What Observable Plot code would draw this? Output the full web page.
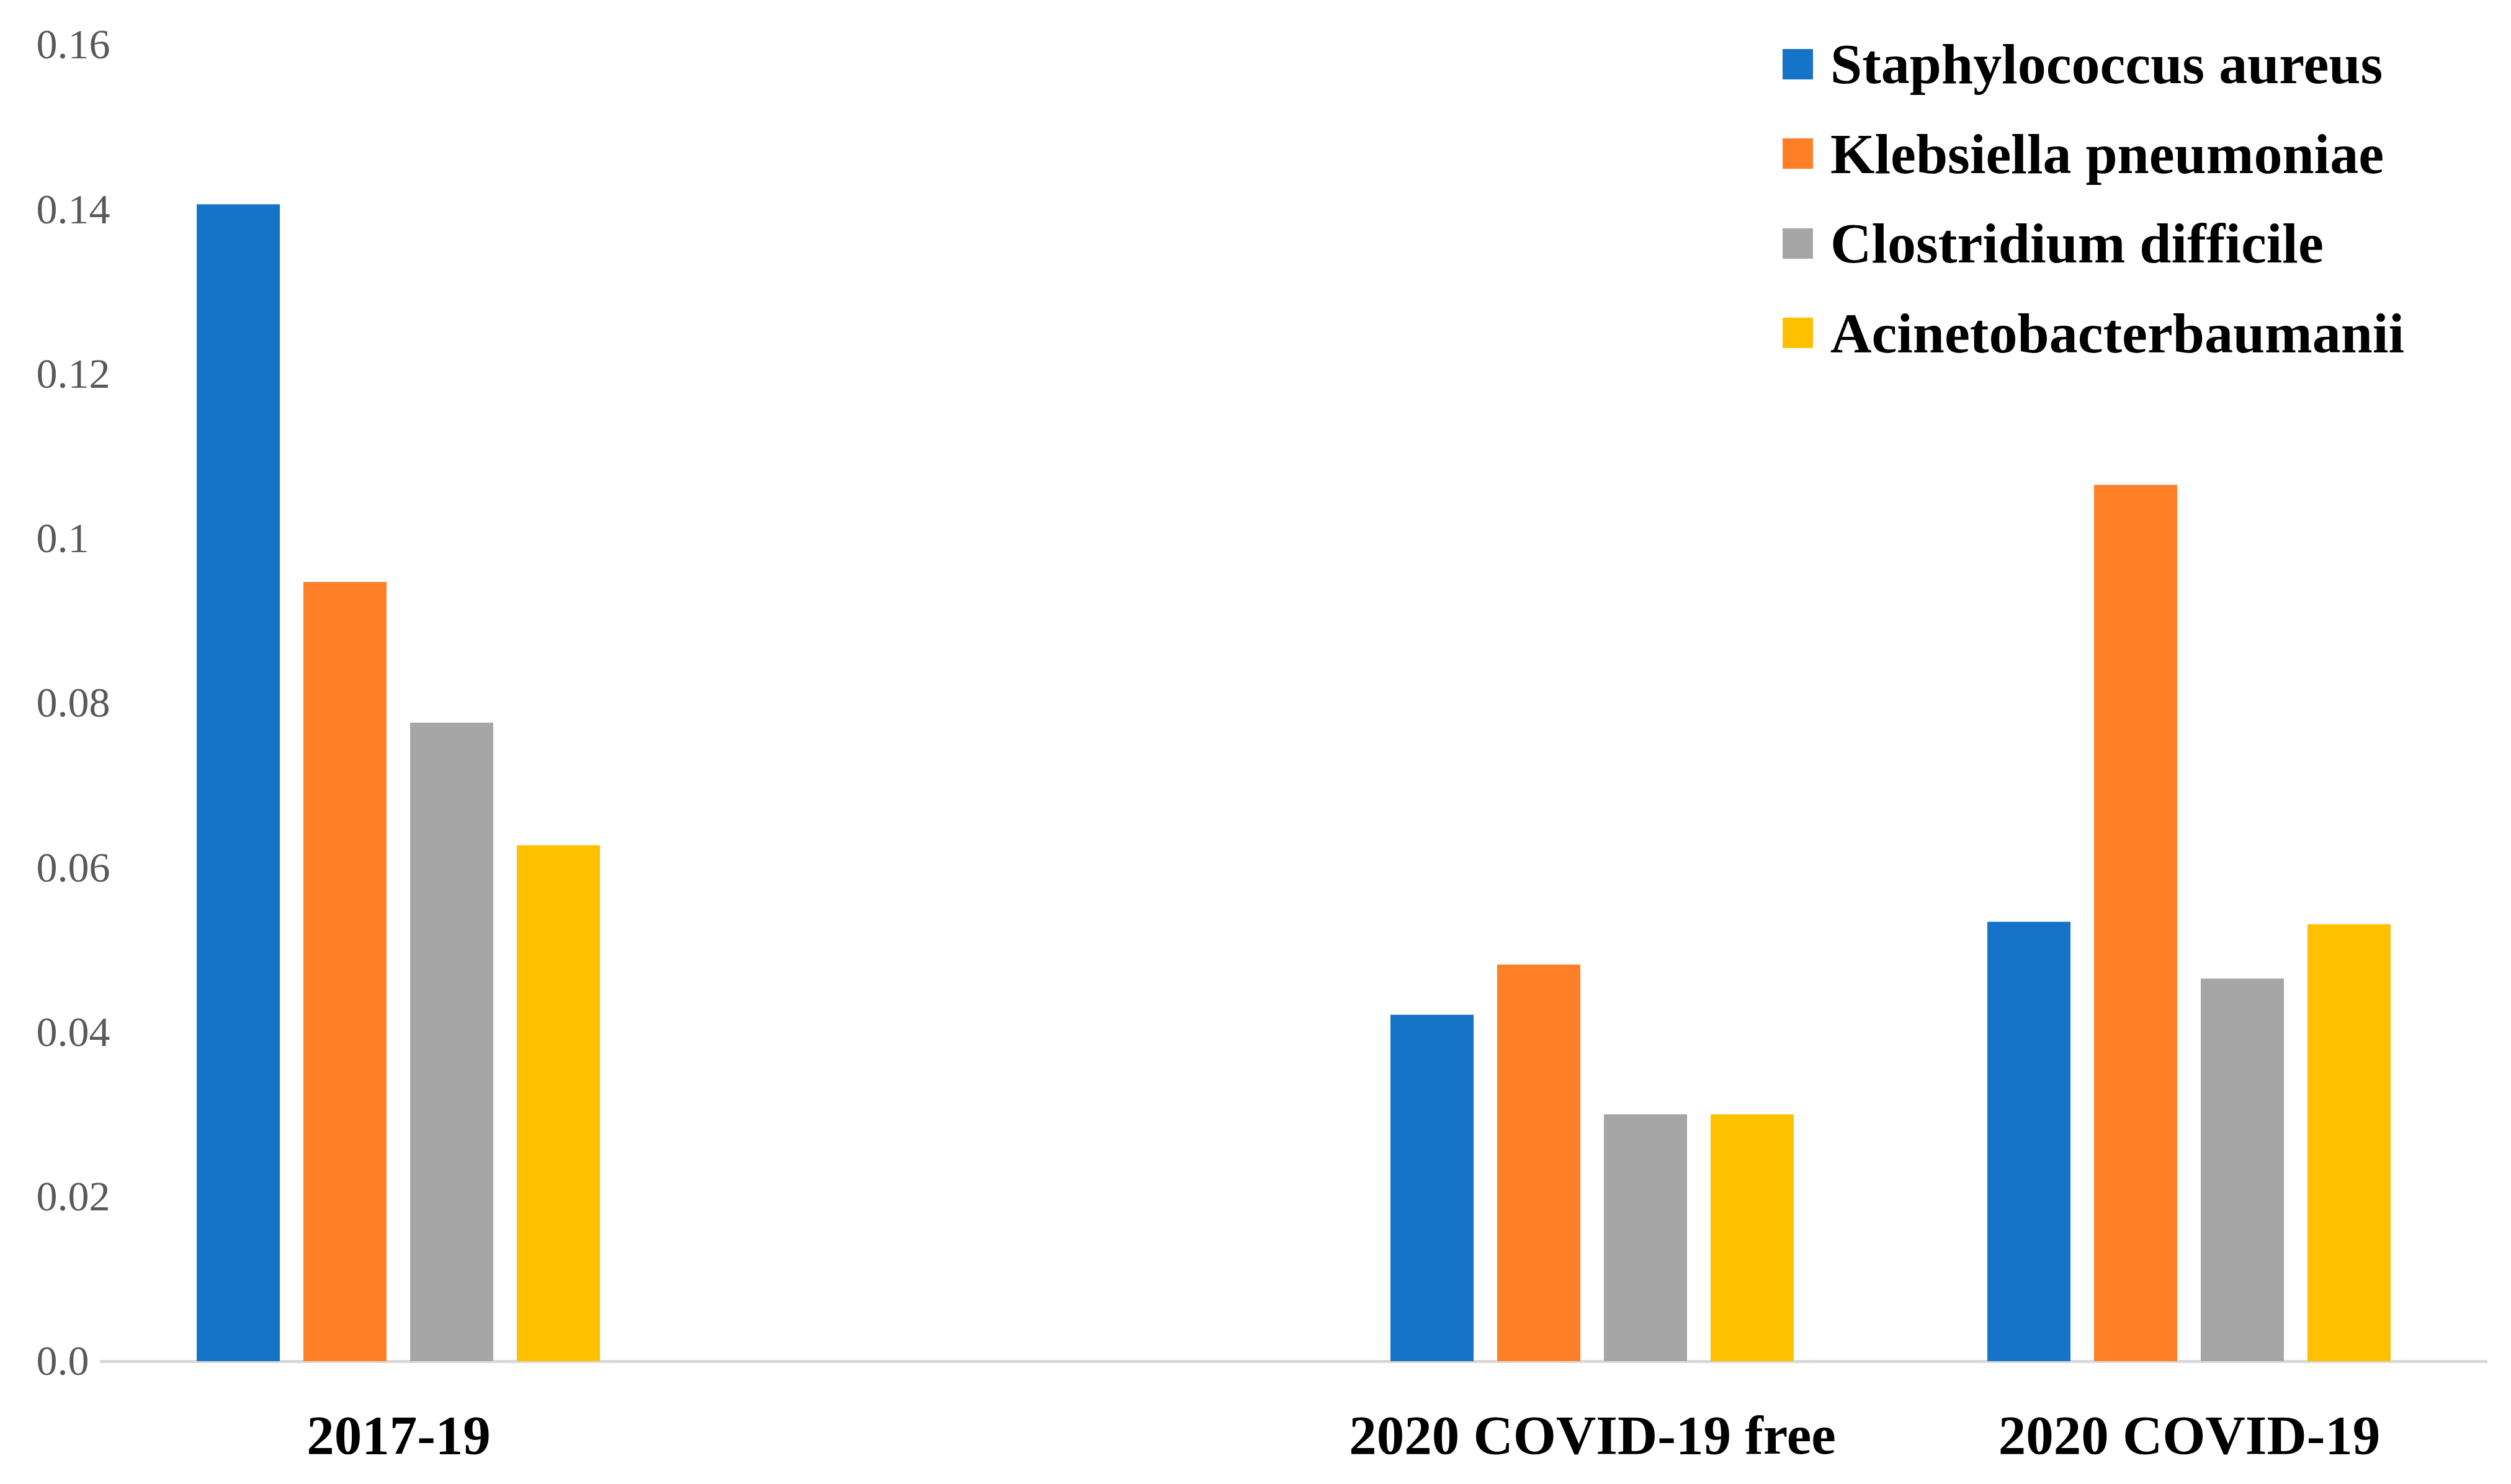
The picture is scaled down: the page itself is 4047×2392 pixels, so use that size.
<!DOCTYPE html>
<html><head><meta charset="utf-8">
<script src="https://cdn.jsdelivr.net/npm/d3@7"></script>
<script src="https://cdn.jsdelivr.net/npm/@observablehq/plot@0.6"></script>
<style>
html,body{margin:0;padding:0;background:#fff;}
#chart{position:relative;width:4047px;height:2392px;}
#legend{position:absolute;left:2873px;top:31px;width:1174px;}
.lg-swatches{font-family:"Liberation Serif",serif !important;font-size:92px !important;font-weight:bold;color:#000;margin:0 !important;}
.lg-swatch{height:144.5px;padding-bottom:0 !important;margin:0 !important;}
.lg-swatch > svg{margin-right:28px !important;}
</style></head><body>
<div id="chart"><div id="legend"></div></div>
<script>
const groups = ["2017-19", "", "2020 COVID-19 free", "2020 COVID-19"];
const series = ["Staphylococcus aureus", "Klebsiella pneumoniae", "Clostridium difficile", "Acinetobacterbaumanii"];
const staphylococcus = [0.1406, null, 0.0421, 0.0534];
const klebsiella = [0.0947, null, 0.0482, 0.1065];
const clostridium = [0.0776, null, 0.0300, 0.0465];
const acinetobacter = [0.0627, null, 0.0300, 0.0531];
const colors = ["#1573c8", "#ff7f27", "#a6a6a6", "#ffc000"];
const yTicks = [0, 0.02, 0.04, 0.06, 0.08, 0.1, 0.12, 0.14, 0.16];
const yTickLabels = ["0.0", "0.02", "0.04", "0.06", "0.08", "0.1", "0.12", "0.14", "0.16"];

const valuesBySeries = [staphylococcus, klebsiella, clostridium, acinetobacter];
const table = [];
series.forEach((s, i) => groups.forEach((g, j) => {
  const v = valuesBySeries[i][j];
  if (v != null) table.push({group: g, series: s, value: v});
}));

const plot = Plot.plot({
  width: 4047, height: 2392,
  marginLeft: 160, marginRight: 36, marginTop: 72, marginBottom: 198,
  style: {fontFamily: "'Liberation Serif', serif", background: "#fff", overflow: "visible"},
  fx: {domain: groups, paddingInner: 0.322, paddingOuter: 0.161, label: null},
  x: {domain: series, paddingInner: 0.22, paddingOuter: 0, axis: null},
  y: {domain: [0, 0.16]},
  color: {domain: series, range: colors},
  marks: [
    Plot.axisY({ticks: yTicks, tickFormat: d => yTickLabels[yTicks.indexOf(d)], tickSize: 0, tickPadding: 258, textAnchor: "start", fontSize: 68, color: "#595959", label: null}),
    Plot.ruleY(groups, {fx: d => d, y: () => 0, stroke: "#d9d9d9", strokeWidth: 5, insetLeft: -155, insetRight: -155}),
    Plot.barY(table, {fx: "group", x: "series", y: "value", fill: "series"}),
    Plot.axisFx({anchor: "bottom", tickSize: 0, tickPadding: 85, fontSize: 89, fontWeight: "bold", color: "#000", label: null})
  ]
});
const chart = document.getElementById("chart");
chart.insertBefore(plot, chart.firstChild);

const legend = Plot.legend({color: {domain: series, range: colors}, legend: "swatches", columns: 1, swatchSize: 49, className: "lg"});
document.getElementById("legend").appendChild(legend);
</script>
</body></html>
